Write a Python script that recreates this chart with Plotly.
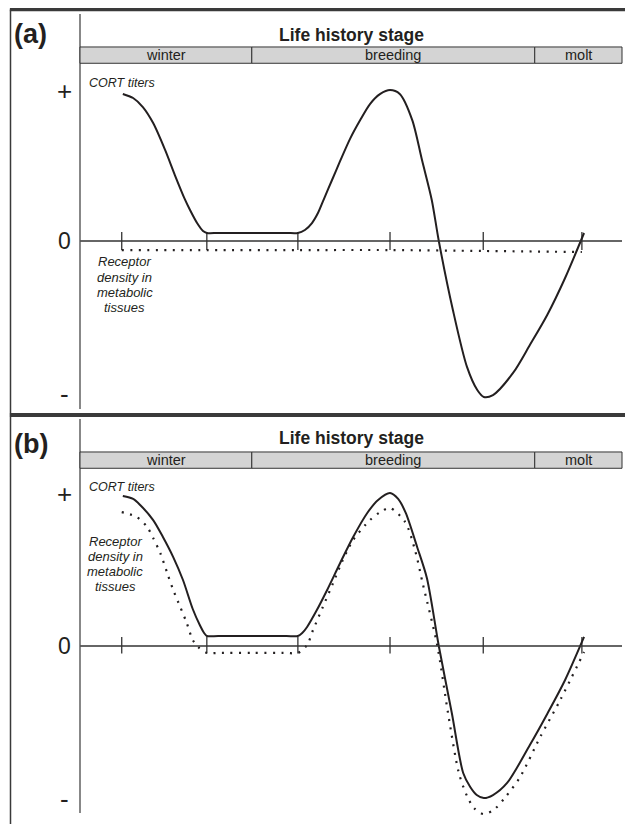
import plotly.graph_objects as go

# ---------------- data ----------------
# x: position in the annual cycle (0 = left axis, 100 = right end of the panel)
# y: relative level (100 = CORT maximum, 0 = baseline)
stage_names = ["winter", "breeding", "molt"]
stage_bounds = [0, 31.7, 83.9, 100]
tick_t = [7.7, 23.4, 40.2, 57.2, 74.4, 92.6]

a_cort_t = [7.9, 9.8, 11.6, 13.5, 15.7, 17.5, 19.4, 20.3, 21.6, 22.7, 23.4, 25.5, 31.8, 38.1, 40.2,
            41.5, 42.8, 43.9, 45.0, 46.5, 48.0, 49.8, 51.7, 53.5, 55.4, 57.2, 59.0, 61.3, 63.1,
            64.9, 66.2, 68.8, 71.4, 73.3, 74.5, 76.2, 79.9, 83.0, 86.2, 89.5, 93.0]
a_cort_y = [97.4, 94.7, 88.7, 78.1, 60.3, 43.7, 27.2, 20.5, 11.9, 6.6, 5.3, 5.3, 5.3, 5.3, 5.3,
            7.3, 11.9, 18.5, 27.8, 40.4, 53.0, 67.5, 80.1, 90.7, 97.4, 100.0, 97.4, 80.1, 53.6,
            27.2, 0.0, -45.7, -83.4, -98.7, -103.3, -102.0, -87.4, -68.9, -49.0, -24.5, 5.3]
a_rec_t = [7.7, 23.4, 40.2, 57.2, 74.4, 92.6]
a_rec_y = [-6.0, -6.0, -6.0, -6.0, -6.6, -7.3]

b_cort_t = [7.9, 9.8, 11.1, 13.5, 15.3, 17.2, 19.0, 20.8, 22.1, 22.9, 23.4, 25.5, 31.8, 38.1, 40.2,
            41.0, 41.9, 43.7, 45.6, 48.0, 50.4, 53.0, 55.0, 57.2, 58.7, 60.1, 62.2, 64.0, 66.2,
            68.6, 70.7, 72.0, 73.2, 74.5, 76.2, 78.8, 83.0, 86.2, 89.5, 93.0]
b_cort_y = [99.3, 97.4, 93.4, 83.4, 72.2, 58.9, 43.7, 24.5, 13.9, 8.6, 6.6, 6.6, 6.6, 6.6, 6.6,
            8.6, 12.6, 23.8, 37.1, 55.0, 72.2, 88.1, 96.7, 101.3, 97.4, 88.1, 65.6, 45.0, 0.0,
            -44.4, -84.1, -93.4, -98.7, -100.7, -98.7, -90.7, -65.6, -45.0, -22.5, 6.0]
b_rec_t = [7.7, 10.5, 12.4, 13.5, 14.8, 16.1, 17.2, 18.5, 19.7, 20.8, 21.8, 23.4, 25.5, 31.8, 38.1,
           40.2, 41.9, 43.0, 44.8, 46.7, 48.5, 50.4, 53.5, 55.4, 57.2, 60.0, 61.8, 63.3, 65.9,
           67.9, 69.9, 71.4, 72.7, 74.4, 76.3, 78.5, 81.2, 84.9, 88.6, 93.0]
b_rec_y = [88.7, 85.4, 78.8, 71.5, 61.6, 48.3, 37.1, 25.8, 15.2, 4.0, -0.7, -4.6, -4.6, -4.6, -4.6,
           -4.6, 0.7, 10.6, 25.8, 41.7, 57.0, 70.2, 83.4, 88.7, 91.4, 82.1, 63.6, 40.4, 0.7,
           -44.4, -84.1, -99.3, -107.3, -111.3, -108.6, -100.0, -86.8, -60.3, -35.8, -4.0]

panel_letters = ["(a)", "(b)"]
title_text = "Life history stage"
level_labels = ["+", "0", "-"]
cort_label = "CORT titers"
rec_lines = ["Receptor", "density in", "metabolic", "tissues"]

# ---------------- style ----------------
FONT = "Liberation Sans, Arial, Helvetica, sans-serif"
INK = "#231f20"
LINE = "#333333"
W, H = 625, 816          # page body adds an 8 px margin -> 633 x 824 window
PX_T = 5.42              # pixels per x unit
PX_Y = 1.51              # pixels per y unit
X0 = 72                  # pixel of x = 0 inside the figure

fig = go.Figure()

panels = [
    dict(xa="x", ya="y", cort=(a_cort_t, a_cort_y), rec=(a_rec_t, a_rec_y),
         tick_top=6.0, tick_bot=-6.0, letter_y=137.1, title_y=136.4,
         lvl_y=[99.3, 0, -101.3], cort_lab=(1.3, 104.6), rec_lab=(8.3, -29.1),
         axis_top=150.3, axis_bot=-111.3, bar=(117.7, 128.5)),
    dict(xa="x2", ya="y2", cort=(b_cort_t, b_cort_y), rec=(b_rec_t, b_rec_y),
         tick_top=6.0, tick_bot=-5.0, letter_y=133.8, title_y=137.7,
         lvl_y=[100.7, 0, -101.3], cort_lab=(1.3, 105.3), rec_lab=(6.5, 54.3),
         axis_top=150.3, axis_bot=-110.6, bar=(117.7, 128.5)),
]

shapes = []
annotations = []

for i, p in enumerate(panels):
    xa, ya = p["xa"], p["ya"]
    tx, ty = [], []
    for t in tick_t:
        tx += [t, t, None]
        ty += [p["tick_top"], p["tick_bot"], None]
    fig.add_trace(go.Scatter(x=tx, y=ty, mode="lines", xaxis=xa, yaxis=ya,
                             line=dict(color=LINE, width=1.3), hoverinfo="skip",
                             showlegend=False))
    fig.add_trace(go.Scatter(x=p["rec"][0], y=p["rec"][1], mode="lines", xaxis=xa, yaxis=ya,
                             line=dict(color=INK, width=2.2, dash="2px,6.5px", shape="spline",
                                       smoothing=0.8),
                             showlegend=False, name="Receptor density"))
    fig.add_trace(go.Scatter(x=p["cort"][0], y=p["cort"][1], mode="lines", xaxis=xa, yaxis=ya,
                             line=dict(color=INK, width=2, shape="spline", smoothing=0.8),
                             showlegend=False, name="CORT titers"))

    shapes.append(dict(type="line", xref=xa, yref=ya, x0=0, x1=100, y0=0, y1=0,
                       line=dict(color=LINE, width=1.3)))
    shapes.append(dict(type="line", xref=xa, yref=ya, x0=0, x1=0,
                       y0=p["axis_bot"], y1=p["axis_top"],
                       line=dict(color="#555555", width=1.4)))
    for k, name in enumerate(stage_names):
        x0, x1 = stage_bounds[k], stage_bounds[k + 1]
        shapes.append(dict(type="rect", xref=xa, yref=ya, x0=x0, x1=x1,
                           y0=p["bar"][0], y1=p["bar"][1], fillcolor="#d4d4d4",
                           line=dict(color=LINE, width=1)))
        annotations.append(dict(xref=xa, yref=ya, x=(x0 + x1) / 2,
                                y=(p["bar"][0] + p["bar"][1]) / 2, text=name, showarrow=False,
                                font=dict(family=FONT, size=14.5, color=INK),
                                xanchor="center", yanchor="middle"))
    annotations.append(dict(xref=xa, yref=ya, x=50.0, y=p["title_y"], text="<b>" + title_text + "</b>",
                            showarrow=False, font=dict(family=FONT, size=17.5, color=INK),
                            xanchor="center", yanchor="middle"))
    annotations.append(dict(xref=xa, yref=ya, x=-12.6, y=p["letter_y"],
                            text="<b>" + panel_letters[i] + "</b>", showarrow=False,
                            font=dict(family=FONT, size=27, color=INK),
                            xanchor="left", yanchor="middle"))
    for lab, ly, sz in zip(level_labels, p["lvl_y"], [26, 23, 26]):
        annotations.append(dict(xref=xa, yref=ya, x=-2.8, y=ly, text=lab, showarrow=False,
                                font=dict(family=FONT, size=sz, color=INK),
                                xanchor="center", yanchor="middle"))
    annotations.append(dict(xref=xa, yref=ya, x=p["cort_lab"][0], y=p["cort_lab"][1],
                            text="<i>" + cort_label + "</i>", showarrow=False,
                            font=dict(family=FONT, size=12.5, color=INK),
                            xanchor="left", yanchor="middle"))
    n = len(rec_lines)
    for j, line_txt in enumerate(rec_lines):
        ly = p["rec_lab"][1] + (n - 1) / 2 * (15.3 / PX_Y) - j * (15.3 / PX_Y)
        annotations.append(dict(xref=xa, yref=ya, x=p["rec_lab"][0], y=ly,
                                text="<i>" + line_txt + "</i>", showarrow=False,
                                font=dict(family=FONT, size=13, color=INK),
                                xanchor="center", yanchor="middle"))

# frame lines (page coordinates)
top_y = 1 - 1.5 / H
div_y = 1 - 407 / H
left_x = 2.5 / W
shapes.append(dict(type="line", xref="paper", yref="paper", x0=left_x - 0.001, x1=1,
                   y0=top_y, y1=top_y, line=dict(color="#3a3a3a", width=3.5)))
shapes.append(dict(type="line", xref="paper", yref="paper", x0=left_x - 0.001, x1=1,
                   y0=div_y, y1=div_y, line=dict(color="#3a3a3a", width=4)))
shapes.append(dict(type="line", xref="paper", yref="paper", x0=left_x, x1=left_x,
                   y0=0, y1=top_y, line=dict(color="#3a3a3a", width=1.5)))

xr = [-X0 / PX_T, (W - X0) / PX_T]
split = 1 - 404 / H
ax_common = dict(visible=False, fixedrange=True)
fig.update_layout(
    width=W, height=H, margin=dict(l=0, r=0, t=0, b=0),
    paper_bgcolor="white", plot_bgcolor="white",
    xaxis=dict(domain=[0, 1], range=xr, anchor="y", **ax_common),
    yaxis=dict(domain=[split, 1], range=[(233 - 404) / PX_Y, 233 / PX_Y], anchor="x", **ax_common),
    xaxis2=dict(domain=[0, 1], range=xr, anchor="y2", **ax_common),
    yaxis2=dict(domain=[0, split], range=[(638 - 816) / PX_Y, (638 - 404) / PX_Y], anchor="x2",
                **ax_common),
    shapes=shapes, annotations=annotations, showlegend=False,
)

fig.write_html("out.html")
